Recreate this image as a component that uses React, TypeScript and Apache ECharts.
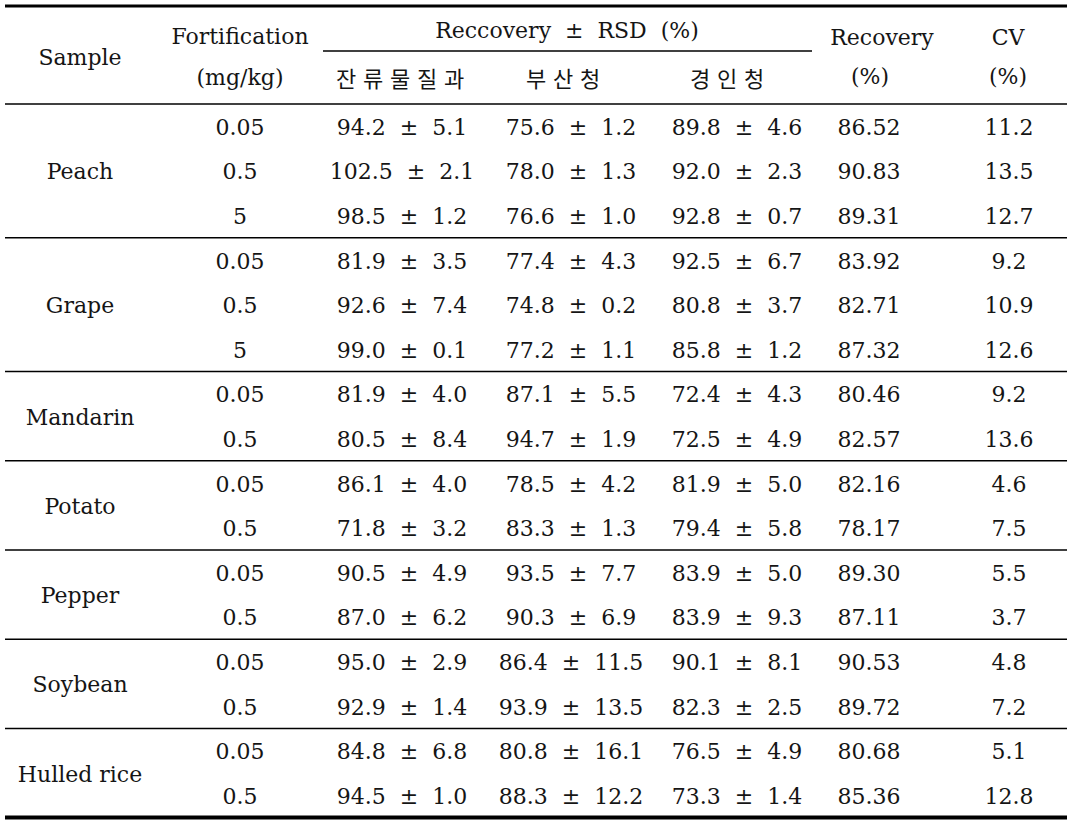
import React, { useEffect, useRef } from "react";
import * as echarts from "echarts";

const samples = ["Peach", "Grape", "Mandarin", "Potato", "Pepper", "Soybean", "Hulled rice"];
const rowsPerSample = [3, 3, 2, 2, 2, 2, 2];
const fortification = ["0.05", "0.5", "5", "0.05", "0.5", "5", "0.05", "0.5", "0.05", "0.5", "0.05", "0.5", "0.05", "0.5", "0.05", "0.5"];
const lab1Mean = ["94.2", "102.5", "98.5", "81.9", "92.6", "99.0", "81.9", "80.5", "86.1", "71.8", "90.5", "87.0", "95.0", "92.9", "84.8", "94.5"];
const lab1Rsd = ["5.1", "2.1", "1.2", "3.5", "7.4", "0.1", "4.0", "8.4", "4.0", "3.2", "4.9", "6.2", "2.9", "1.4", "6.8", "1.0"];
const lab2Mean = ["75.6", "78.0", "76.6", "77.4", "74.8", "77.2", "87.1", "94.7", "78.5", "83.3", "93.5", "90.3", "86.4", "93.9", "80.8", "88.3"];
const lab2Rsd = ["1.2", "1.3", "1.0", "4.3", "0.2", "1.1", "5.5", "1.9", "4.2", "1.3", "7.7", "6.9", "11.5", "13.5", "16.1", "12.2"];
const lab3Mean = ["89.8", "92.0", "92.8", "92.5", "80.8", "85.8", "72.4", "72.5", "81.9", "79.4", "83.9", "83.9", "90.1", "82.3", "76.5", "73.3"];
const lab3Rsd = ["4.6", "2.3", "0.7", "6.7", "3.7", "1.2", "4.3", "4.9", "5.0", "5.8", "5.0", "9.3", "8.1", "2.5", "4.9", "1.4"];
const recovery = ["86.52", "90.83", "89.31", "83.92", "82.71", "87.32", "80.46", "82.57", "82.16", "78.17", "89.30", "87.11", "90.53", "89.72", "80.68", "85.36"];
const cv = ["11.2", "13.5", "12.7", "9.2", "10.9", "12.6", "9.2", "13.6", "4.6", "7.5", "5.5", "3.7", "4.8", "7.2", "5.1", "12.8"];
const labNames = ["잔류물질과", "부산청", "경인청"];

const SERIF = "'DejaVu Serif', 'Liberation Serif', serif";
const KR = "'Noto Sans CJK KR', sans-serif";
const COLOR = "#151515";

export default function App() {
  const ref = useRef<HTMLDivElement>(null);
  useEffect(() => {
    document.body.style.margin = "0";
    const chart = echarts.init(ref.current!, null, { renderer: "svg" });
    const els: any[] = [];
    const txt = (s: string, x: number, y: number, opts: any = {}) => {
      els.push({
        type: "text",
        x,
        y,
        style: {
          text: s,
          fill: COLOR,
          font: `${opts.size || 22}px ${opts.family || SERIF}`,
          align: opts.align || "center",
          verticalAlign: "middle",
        },
      });
    };
    const line = (x1: number, y: number, x2: number, w: number) => {
      els.push({ type: "line", shape: { x1, y1: y, x2, y2: y }, style: { stroke: "#000", lineWidth: w } });
    };
    const spaced = (s: string, cx: number, y: number, step: number) => {
      const chars = Array.from(s);
      const start = cx - (step * (chars.length - 1)) / 2;
      chars.forEach((c, i) => txt(c, start + i * step, y, { family: KR, size: 22 }));
    };

    const L = 5, R = 1067;
    const colX = { sample: 80, fort: 240, lab: [402, 571, 737], rec: 869, cv: 1009 };
    const headTop = 6, headBottom = 104, rowH = 44.6;

    // header
    line(L, headTop, R, 3);
    line(323, 51, 812, 1.5);
    line(L, headBottom, R, 1.5);
    txt("Sample", colX.sample, 57);
    txt("Fortification", colX.fort, 36);
    txt("(mg/kg)", colX.fort, 77);
    txt("Reccovery  ±  RSD  (%)", 567, 30);
    labNames.forEach((n, i) => spaced(n, [400, 563, 727][i], 77, 27));
    txt("Recovery", 882, 37);
    txt("(%)", 870, 76);
    txt("CV", 1008, 37);
    txt("(%)", 1008, 76);

    // body
    let r = 0;
    samples.forEach((s, gi) => {
      const n = rowsPerSample[gi];
      const top = headBottom + r * rowH;
      txt(s, colX.sample, top + (n * rowH) / 2 + 1);
      for (let k = 0; k < n; k++) {
        const i = r + k;
        const y = top + k * rowH + rowH / 2 + 1;
        txt(fortification[i], colX.fort, y);
        const means = [lab1Mean, lab2Mean, lab3Mean];
        const rsds = [lab1Rsd, lab2Rsd, lab3Rsd];
        for (let j = 0; j < 3; j++) {
          txt(`${means[j][i]}  ±  ${rsds[j][i]}`, colX.lab[j], y);
        }
        txt(recovery[i], colX.rec, y);
        txt(cv[i], colX.cv, y);
      }
      r += n;
      const bottom = headBottom + r * rowH;
      if (gi < samples.length - 1) line(L, bottom, R, 1.5);
      else line(L, bottom, R, 4);
    });

    chart.setOption({ animation: false, backgroundColor: "#fff", graphic: { elements: els } });
    return () => chart.dispose();
  }, []);
  return <div ref={ref} style={{ width: 1072, height: 825 }} />;
}
